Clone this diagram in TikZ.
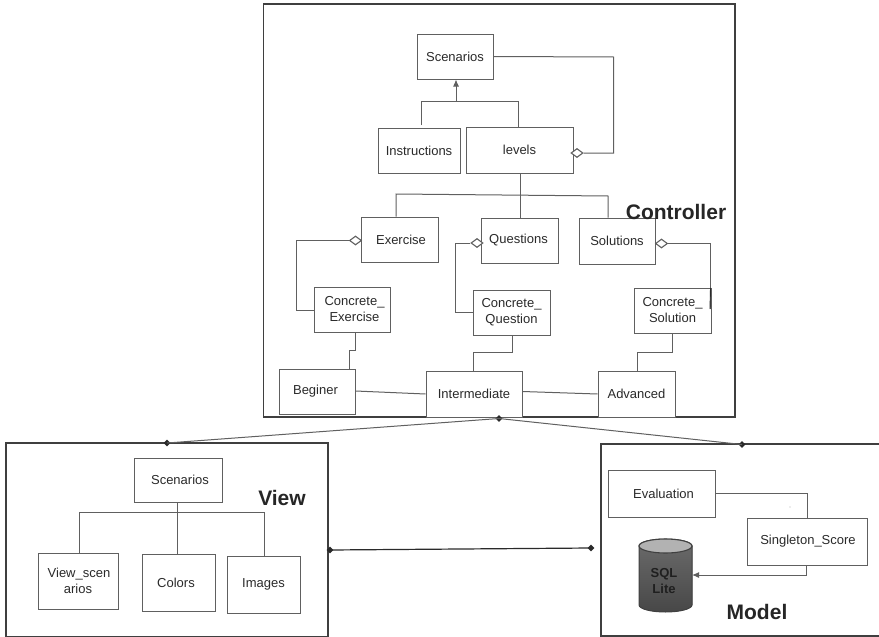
\documentclass[tikz,border=0pt]{standalone}
\usepackage{fontspec}
\setmainfont{Liberation Sans}
\usetikzlibrary{shapes.geometric,arrows.meta,calc}
\definecolor{ink}{HTML}{2A2A2A}
\definecolor{wire}{HTML}{606060}
\tikzset{
  x=1pt,y=-1pt,
  ubox/.style={draw=wire,line width=1pt,fill=white,inner sep=0pt,align=center,font=\fontsize{13}{16}\selectfont,text=ink},
  frame/.style={draw=ink!90,line width=1.9pt,inner sep=0pt},
  wirep/.style={draw=wire,line width=1pt},
  opend/.style={diamond,draw=wire,line width=1.1pt,fill=white,inner sep=0pt,minimum width=12pt,minimum height=9pt},
  dot/.style={diamond,fill=ink,draw=none,inner sep=0pt,minimum width=7pt,minimum height=7pt},
  title/.style={font=\bfseries\fontsize{21}{24}\selectfont,text=ink!90!black,inner sep=0pt},
  tip/.style={-{Latex[length=7pt,width=6pt]}}
}
\newcommand\bx[6]{\node[ubox,minimum width={#4-#2},minimum height={#5-#3}] (#1) at ({(#2+#4)/2},{(#3+#5)/2}) {#6};}
\newcommand\fr[5]{\node[frame,minimum width={#4-#2},minimum height={#5-#3}] (#1) at ({(#2+#4)/2},{(#3+#5)/2}) {};}
\begin{document}
\begin{tikzpicture}
\clip (0,0) rectangle (879,637);
\fill[white] (0,0) rectangle (879,637);
% frames
\fr{ctrl}{263.5}{4}{735}{417}
\fr{viewf}{6}{443}{328}{637.3}
\fr{modelf}{601}{444}{882}{636}
% controller boxes
\bx{scen}{417}{34}{493}{79}{Scenarios}
\bx{instr}{378}{128}{460}{173}{Instructions}
\bx{levels}{466}{127}{573}{173}{levels}
\bx{exer}{361}{217}{438}{262}{\hspace*{3pt}Exercise}
\bx{quest}{481}{218}{558}{263}{\hspace*{-2pt}Questions}
\bx{solu}{579}{218}{655}{264}{Solutions}
\bx{cex}{314}{287}{390}{332}{\hspace*{5pt}Concrete\_\\\hspace*{5pt}Exercise}
\bx{cqu}{473}{290}{550}{335}{Concrete\_\\Question}
\bx{cso}{634}{288}{711}{333}{Concrete\_\\Solution}
\bx{beg}{279}{369}{355}{414}{\hspace*{-3pt}Beginer}
\bx{inter}{426}{371}{522}{417}{Intermediate}
\bx{adv}{598}{371}{675}{417}{Advanced}
% view boxes
\bx{vscen}{134}{458}{222}{502}{\hspace*{4pt}Scenarios}
\bx{vs}{38}{553}{118}{609}{\hspace*{2pt}View\_scen\\arios}
\bx{col}{142}{554}{215}{611}{\hspace*{-5pt}Colors}
\bx{img}{227}{556}{300}{613}{Images}
% model boxes
\bx{eval}{608}{470}{715}{517}{\hspace*{4pt}Evaluation}
\bx{single}{747}{518}{867}{565}{\hspace*{2pt}Singleton\_Score}
% cylinder
\fill[top color=black!58,bottom color=black!72,draw=black!75,line width=1pt]
  (639,546) -- (639,605) arc[start angle=180,end angle=360,x radius=26.5,y radius=-7] -- (692,546) arc[start angle=0,end angle=180,x radius=26.5,y radius=-7] -- cycle;
\draw[fill=black!30,draw=black!75,line width=1.1pt] (665.5,546) ellipse[x radius=26.5,y radius=7];
\node[inner sep=0pt,minimum width=53pt,minimum height=36pt,align=center,text=black!88,font=\bfseries\fontsize{13}{16}\selectfont] (sql) at (664,581) {SQL\\Lite};
\coordinate (sqlr) at (692,575);
% titles
\node[title] (tctrl) at (676,212) {Controller};
\node[title] (tview) at (282,498) {View};
\node[title] (tmodel) at (757,612) {Model};
% junction points
\coordinate (t1) at (456,101);
\coordinate (t1l) at (421,101);
\coordinate (t1r) at (518,101);
\coordinate (i1) at (421,125);
\coordinate (c1) at (613.5,57);
\coordinate (b2l) at (396,194);
\coordinate (b2r) at (608,196);
\coordinate (b2m) at (520,195);
% open diamonds
\node[opend] (dlev) at (577,153) {};
\node[opend] (dex) at (355.5,240.5) {};
\node[opend] (dqu) at (477,243) {};
\node[opend] (dso) at (661.5,243.5) {};
% upper connectors
\draw[wirep,tip] (t1) -- (t1 |- scen.south);
\draw[wirep] (i1) -- (t1l) -- (t1r) -- (t1r |- levels.north);
\draw[wirep] (scen.east) -- (c1) |- (dlev.east);
\draw[wirep] (b2m |- levels.south) -- (b2m |- quest.north);
\draw[wirep] (b2l |- exer.north) -- (b2l) -- (b2r) -- (b2r |- solu.north);
% aggregation connectors
\coordinate (ce) at (296,310);
\coordinate (cq) at (455,312);
\coordinate (cs) at (710,309);
\draw[wirep] (dex.west) -| (ce) -- (ce -| cex.west);
\draw[wirep] (dqu.west) -| (cq) -- (cq -| cqu.west);
\draw[wirep] (dso.east) -| (cs);
\draw[draw=ink,line width=0.9pt] (710.5,288) -- (cs);
% to levels
\coordinate (e1) at (355,350);
\coordinate (e2) at (349,350);
\coordinate (q1) at (512,352);
\coordinate (q2) at (473,352);
\coordinate (s1) at (672,352.5);
\coordinate (s2) at (637,352.5);
\draw[wirep] (e1 |- cex.south) -- (e1) -- (e2) -- (e2 |- beg.north);
\draw[wirep] (q1 |- cqu.south) -- (q1) -- (q2) -- (q2 |- inter.north);
\draw[wirep] (s1 |- cso.south) -- (s1) -- (s2) -- (s2 |- adv.north);
\draw[wirep] ($(beg.east)+(0,-0.5)$) -- ($(inter.west)+(0,0)$);
\draw[wirep] ($(inter.east)+(0,-2.5)$) -- ($(adv.west)+(0,0)$);
% view connectors
\coordinate (v1) at (177.5,512);
\coordinate (v2) at (79,512);
\coordinate (v3) at (264,512);
\draw[wirep] (v1 |- vscen.south) -- (v1 |- col.north);
\draw[wirep] (v2 |- vs.north) -- (v2) -- (v3) -- (v3 |- img.north);
% model connectors
\coordinate (m1) at (807,493);
\coordinate (m2) at (806,575);
\draw[wirep] (eval.east |- m1) -- (m1) -- (m1 |- single.north);
\draw[wirep,tip] (m2 |- single.south) -- (m2) -- (sqlr);
\fill[black!30] (790,507) circle[radius=0.7];
% main connections
\node[dot] (dc) at (499,418.5) {};
\node[dot] (dv) at (167,443) {};
\node[dot] (dm) at (742,444.5) {};
\node[dot] (dvr) at (330,550) {};
\node[dot] (dml) at (591,548) {};
\draw[wirep] (dc.center) -- (dv.center);
\draw[wirep] (dc.center) -- (dm.center);
\draw[draw=ink,line width=1.2pt] (dvr.center) -- (dml.center);
\end{tikzpicture}
\end{document}
